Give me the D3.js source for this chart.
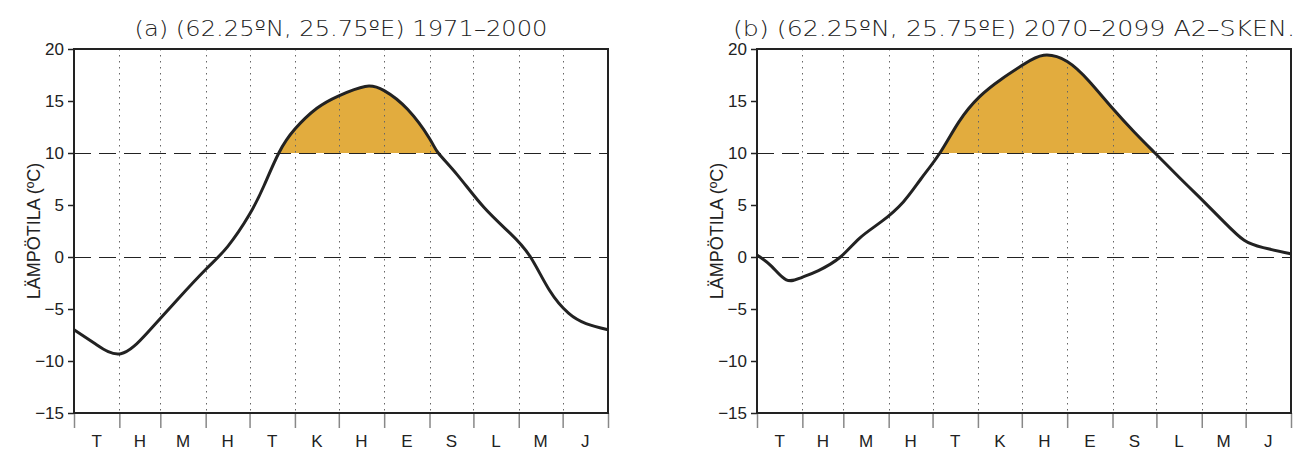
<!DOCTYPE html>
<html>
<head>
<meta charset="utf-8">
<script src="https://cdn.jsdelivr.net/npm/d3@7"></script>
<style>
  body { margin: 0; background: #fff; }
  svg { display: block; }
  .tick text { font-family: "Liberation Sans", Arial, sans-serif; }
</style>
</head>
<body>
<div id="chart"></div>
<script>
// month initials (Finnish) and day-of-year at the end of each month
const months = ["T", "H", "M", "H", "T", "K", "H", "E", "S", "L", "M", "J"];
const monthEnds = [0, 31, 59, 90, 120, 151, 181, 212, 243, 273, 304, 334, 365];
const yTicks = [-15, -10, -5, 0, 5, 10, 15, 20];

// (a) 1971-2000, daily mean temperature
const daysA = [0, 15, 32, 50, 70, 90, 105, 120, 130, 140, 151, 166, 181, 199, 212, 228, 243, 249, 262, 280, 298, 312, 325, 338, 350, 365];
const tempA = [-7.0, -8.4, -9.3, -7.3, -4.2, -1.2, 1.0, 4.1, 6.9, 10.0, 12.3, 14.3, 15.5, 16.4, 16.0, 14.2, 11.4, 10.0, 7.9, 4.8, 2.3, 0.0, -3.2, -5.4, -6.4, -7.0];

// (b) 2070-2099 A2 scenario
const daysB = [0, 10, 20, 30, 42, 57, 70, 85, 100, 112, 125, 138, 152, 167, 182, 196, 212, 227, 243, 258, 272, 289, 302, 319, 333, 346, 365];
const tempB = [0.2, -0.9, -2.2, -2.0, -1.3, 0.0, 1.8, 3.4, 5.3, 7.5, 10.0, 13.0, 15.4, 17.1, 18.5, 19.4, 18.8, 16.9, 14.3, 12.0, 10.0, 7.6, 5.8, 3.4, 1.6, 0.9, 0.3];

const titles = [
  "(a) (62.25ºN, 25.75ºE) 1971–2000",
  "(b) (62.25ºN, 25.75ºE) 2070–2099 A2–SKEN."
];

const svgWidth = 1304, svgHeight = 452;
const svg = d3.select("#chart").append("svg")
    .attr("width", svgWidth)
    .attr("height", svgHeight);

const panels = [
  { left: 74, days: daysA, temp: tempA, title: titles[0], titleX: 341, titleLen: 413 },
  { left: 757, days: daysB, temp: tempB, title: titles[1], titleX: 1014, titleLen: 562 }
];
const plotW = 534, plotTop = 49, plotH = 364;

panels.forEach((p, i) => {
  const g = svg.append("g").attr("transform", `translate(${p.left}, ${plotTop})`);

  const x = d3.scaleLinear().domain([0, 365]).range([0, plotW]);
  const y = d3.scaleLinear().domain([-15, 20]).range([plotH, 0]);

  const pts = p.days.map((d, j) => [d, p.temp[j]]);
  const curve = d3.curveNatural;

  // shaded part above 10 degrees
  g.append("clipPath").attr("id", "clip" + i)
    .append("rect").attr("x", 0).attr("y", 0).attr("width", plotW).attr("height", y(10));
  g.append("path")
    .datum(pts)
    .attr("clip-path", `url(#clip${i})`)
    .attr("fill", "#e2ac3e")
    .attr("d", d3.area().x(d => x(d[0])).y0(y(10)).y1(d => y(d[1])).curve(curve));

  // dotted month grid lines
  g.selectAll(".grid")
    .data(monthEnds.slice(1, 12))
    .join("line")
    .attr("x1", d => Math.round(x(d)) + 0.5).attr("x2", d => Math.round(x(d)) + 0.5)
    .attr("y1", 0).attr("y2", plotH)
    .attr("stroke", "#666").attr("stroke-width", 1)
    .attr("stroke-dasharray", "1.5,4.5");

  // dashed reference lines at 0 and 10
  g.selectAll(".ref")
    .data([0, 10])
    .join("line")
    .attr("x1", 0).attr("x2", plotW)
    .attr("y1", d => Math.round(y(d)) + 0.5).attr("y2", d => Math.round(y(d)) + 0.5)
    .attr("stroke", "#222").attr("stroke-width", 1.2)
    .attr("stroke-dasharray", "17,8");

  // temperature curve
  g.append("path")
    .datum(pts)
    .attr("fill", "none")
    .attr("stroke", "#222")
    .attr("stroke-width", 3)
    .attr("d", d3.line().x(d => x(d[0])).y(d => y(d[1])).curve(curve));

  // y axis
  const leftAxis = d3.axisLeft(y).tickValues(yTicks).tickSize(6).tickPadding(4);
  const ya = g.append("g").call(leftAxis);
  ya.select(".domain").remove();
  ya.selectAll(".tick line").attr("stroke", "#222").attr("stroke-width", 1.5);
  ya.selectAll(".tick text").attr("font-size", 17).attr("fill", "#222");

  // x axis: ticks at month boundaries, labels mid-month
  const bottomAxis = d3.axisBottom(x).tickValues(monthEnds).tickSize(15).tickFormat("");
  const xa = g.append("g").attr("transform", `translate(0, ${plotH})`).call(bottomAxis);
  xa.select(".domain").remove();
  xa.selectAll(".tick line").attr("stroke", "#888").attr("stroke-width", 1.5);

  g.selectAll(".mlab")
    .data(months)
    .join("text")
    .attr("x", (d, j) => x((monthEnds[j] + monthEnds[j + 1]) / 2))
    .attr("y", plotH + 34)
    .attr("text-anchor", "middle")
    .attr("font-family", "Liberation Sans, Arial, sans-serif")
    .attr("font-size", 17)
    .attr("fill", "#222")
    .text(d => d);

  // frame
  g.append("rect")
    .attr("x", 0).attr("y", 0).attr("width", plotW).attr("height", plotH)
    .attr("fill", "none").attr("stroke", "#222").attr("stroke-width", 2);

  // y axis title
  g.append("text")
    .attr("transform", `translate(-34, ${plotH / 2}) rotate(-90)`)
    .attr("text-anchor", "middle")
    .attr("font-family", "Liberation Sans, Arial, sans-serif")
    .attr("font-size", 18)
    .attr("fill", "#222")
    .text("LÄMPÖTILA (ºC)");

  // panel title
  svg.append("text")
    .attr("x", p.titleX)
    .attr("y", 36)
    .attr("text-anchor", "middle")
    .attr("font-family", "DejaVu Sans, sans-serif")
    .attr("font-weight", 200)
    .attr("font-size", 21)
    .attr("textLength", p.titleLen)
    .attr("lengthAdjust", "spacingAndGlyphs")
    .attr("fill", "#222")
    .text(p.title);
});
</script>
</body>
</html>
